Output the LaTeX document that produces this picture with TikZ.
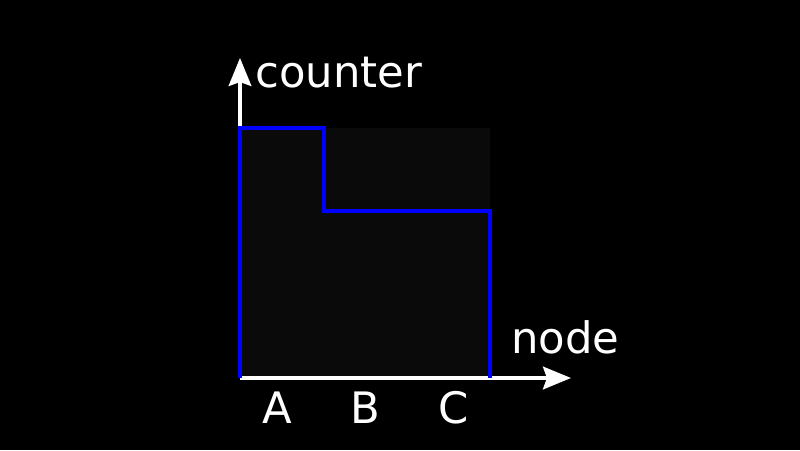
\documentclass[tikz,border=0pt]{standalone}
\usepackage{fontspec}
\setmainfont{DejaVu Sans}
\usetikzlibrary{arrows.meta}
\begin{document}
\begin{tikzpicture}[x=0.75pt,y=-0.75pt,
  axis/.style={draw=white,line width=2.6pt,-{Stealth[length=21pt,width=17pt,inset=3pt]}},
  curve/.style={draw=blue,line width=3.4pt},
  lbl/.style={text=white,font=\fontsize{32.5pt}{36pt}\selectfont,inner sep=0pt},
  panel/.style={fill=black!96!white}]
\fill[black] (0,0) rectangle (800,450);
\useasboundingbox (0,0) rectangle (800,450);
\coordinate (O) at (240,378);
\coordinate (XE) at (571,378);
\coordinate (YE) at (240,58);
\fill[panel] (240,128) rectangle (490,378);
\draw[axis] (O) -- (XE);
\draw[axis] (O) -- (YE);
\coordinate (p1) at (240,128);
\coordinate (p2) at (324,128);
\coordinate (p3) at (324,211);
\coordinate (p4) at (490,211);
\coordinate (p5) at (490,378);
\draw[curve] (O) -- (p1) -- (p2) -- (p3) -- (p4) -- (p5);
\node[lbl,anchor=base west] (ylab) at (255,87) {counter};
\node[lbl,anchor=base west] (xlab) at (511,353) {node};
\node[lbl,anchor=base] (la) at (277,423) {A};
\node[lbl,anchor=base] (lb) at (365,423) {B};
\node[lbl,anchor=base] (lc) at (454,423) {C};
\end{tikzpicture}
\end{document}
